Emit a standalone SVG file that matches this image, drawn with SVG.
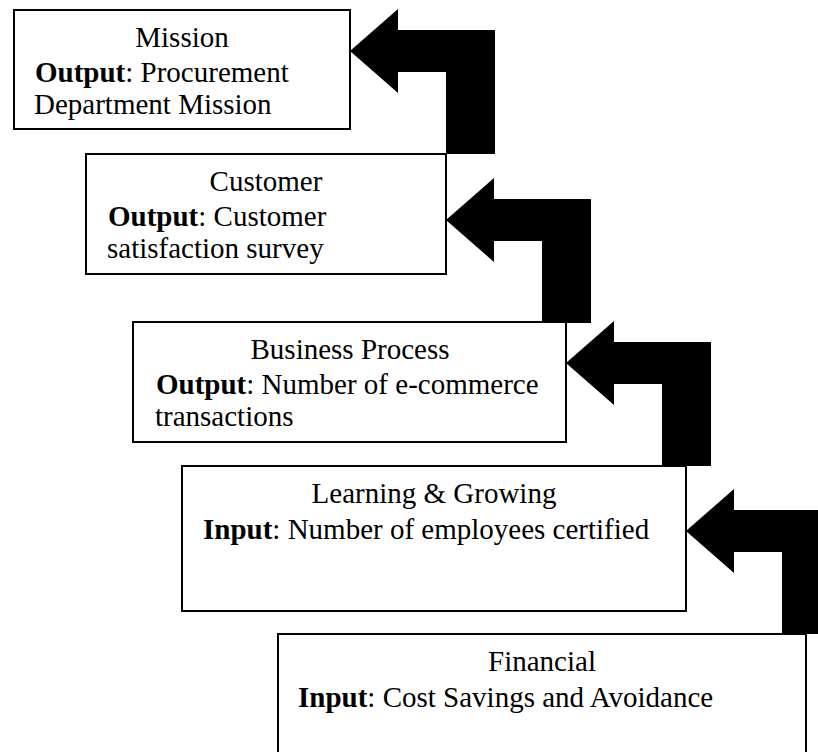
<svg xmlns="http://www.w3.org/2000/svg" xmlns:xlink="http://www.w3.org/1999/xlink" width="818" height="752" viewBox="0 0 818 752">
  <style>
    .box { fill: #ffffff; stroke: #000000; stroke-width: 2; }
    .title { font-family: "Liberation Serif", "Times New Roman", serif; font-size: 29px; fill: #000000; text-anchor: middle; }
    .body { font-family: "Liberation Serif", "Times New Roman", serif; font-size: 29px; fill: #000000; }
    .body .key { font-weight: bold; }
    .bent-arrow { fill: #000000; }
  </style>
  <defs>
    <!-- bent block arrow, origin at the arrow tip -->
    <path id="bent-arrow" d="M0,0 L48,-42 L48,-21 L145,-21 L145,103 L96,103 L96,21 L48,21 L48,42 Z"/>
  </defs>

  <rect width="818" height="752" fill="#ffffff"/>

  <g id="mission">
    <rect class="box" x="14" y="10" width="336" height="119"/>
    <text class="title" x="182" y="47">Mission</text>
    <text class="body" x="35" y="82"><tspan class="key">Output</tspan>: Procurement</text>
    <text class="body" x="34" y="114">Department Mission</text>
  </g>

  <g id="customer">
    <rect class="box" x="86" y="154" width="360" height="120"/>
    <text class="title" x="266" y="191">Customer</text>
    <text class="body" x="108" y="226"><tspan class="key">Output</tspan>: Customer</text>
    <text class="body" x="107" y="258">satisfaction survey</text>
  </g>

  <g id="business-process">
    <rect class="box" x="133" y="322" width="433" height="120"/>
    <text class="title" x="350" y="359">Business Process</text>
    <text class="body" x="156" y="394"><tspan class="key">Output</tspan>: Number of e-commerce</text>
    <text class="body" x="155" y="426">transactions</text>
  </g>

  <g id="learning-growing">
    <rect class="box" x="182" y="466" width="504" height="145"/>
    <text class="title" x="434" y="503">Learning &amp; Growing</text>
    <text class="body" x="203" y="539"><tspan class="key">Input</tspan>: Number of employees certified</text>
  </g>

  <g id="financial">
    <rect class="box" x="278" y="634" width="528" height="200"/>
    <text class="title" x="542" y="671">Financial</text>
    <text class="body" x="298" y="707"><tspan class="key">Input</tspan>: Cost Savings and Avoidance</text>
  </g>

  <g id="connectors">
    <use xlink:href="#bent-arrow" class="bent-arrow" transform="translate(350,51)"/>
    <use xlink:href="#bent-arrow" class="bent-arrow" transform="translate(446,220)"/>
    <use xlink:href="#bent-arrow" class="bent-arrow" transform="translate(566,363)"/>
    <use xlink:href="#bent-arrow" class="bent-arrow" transform="translate(686,531)"/>
  </g>
</svg>
